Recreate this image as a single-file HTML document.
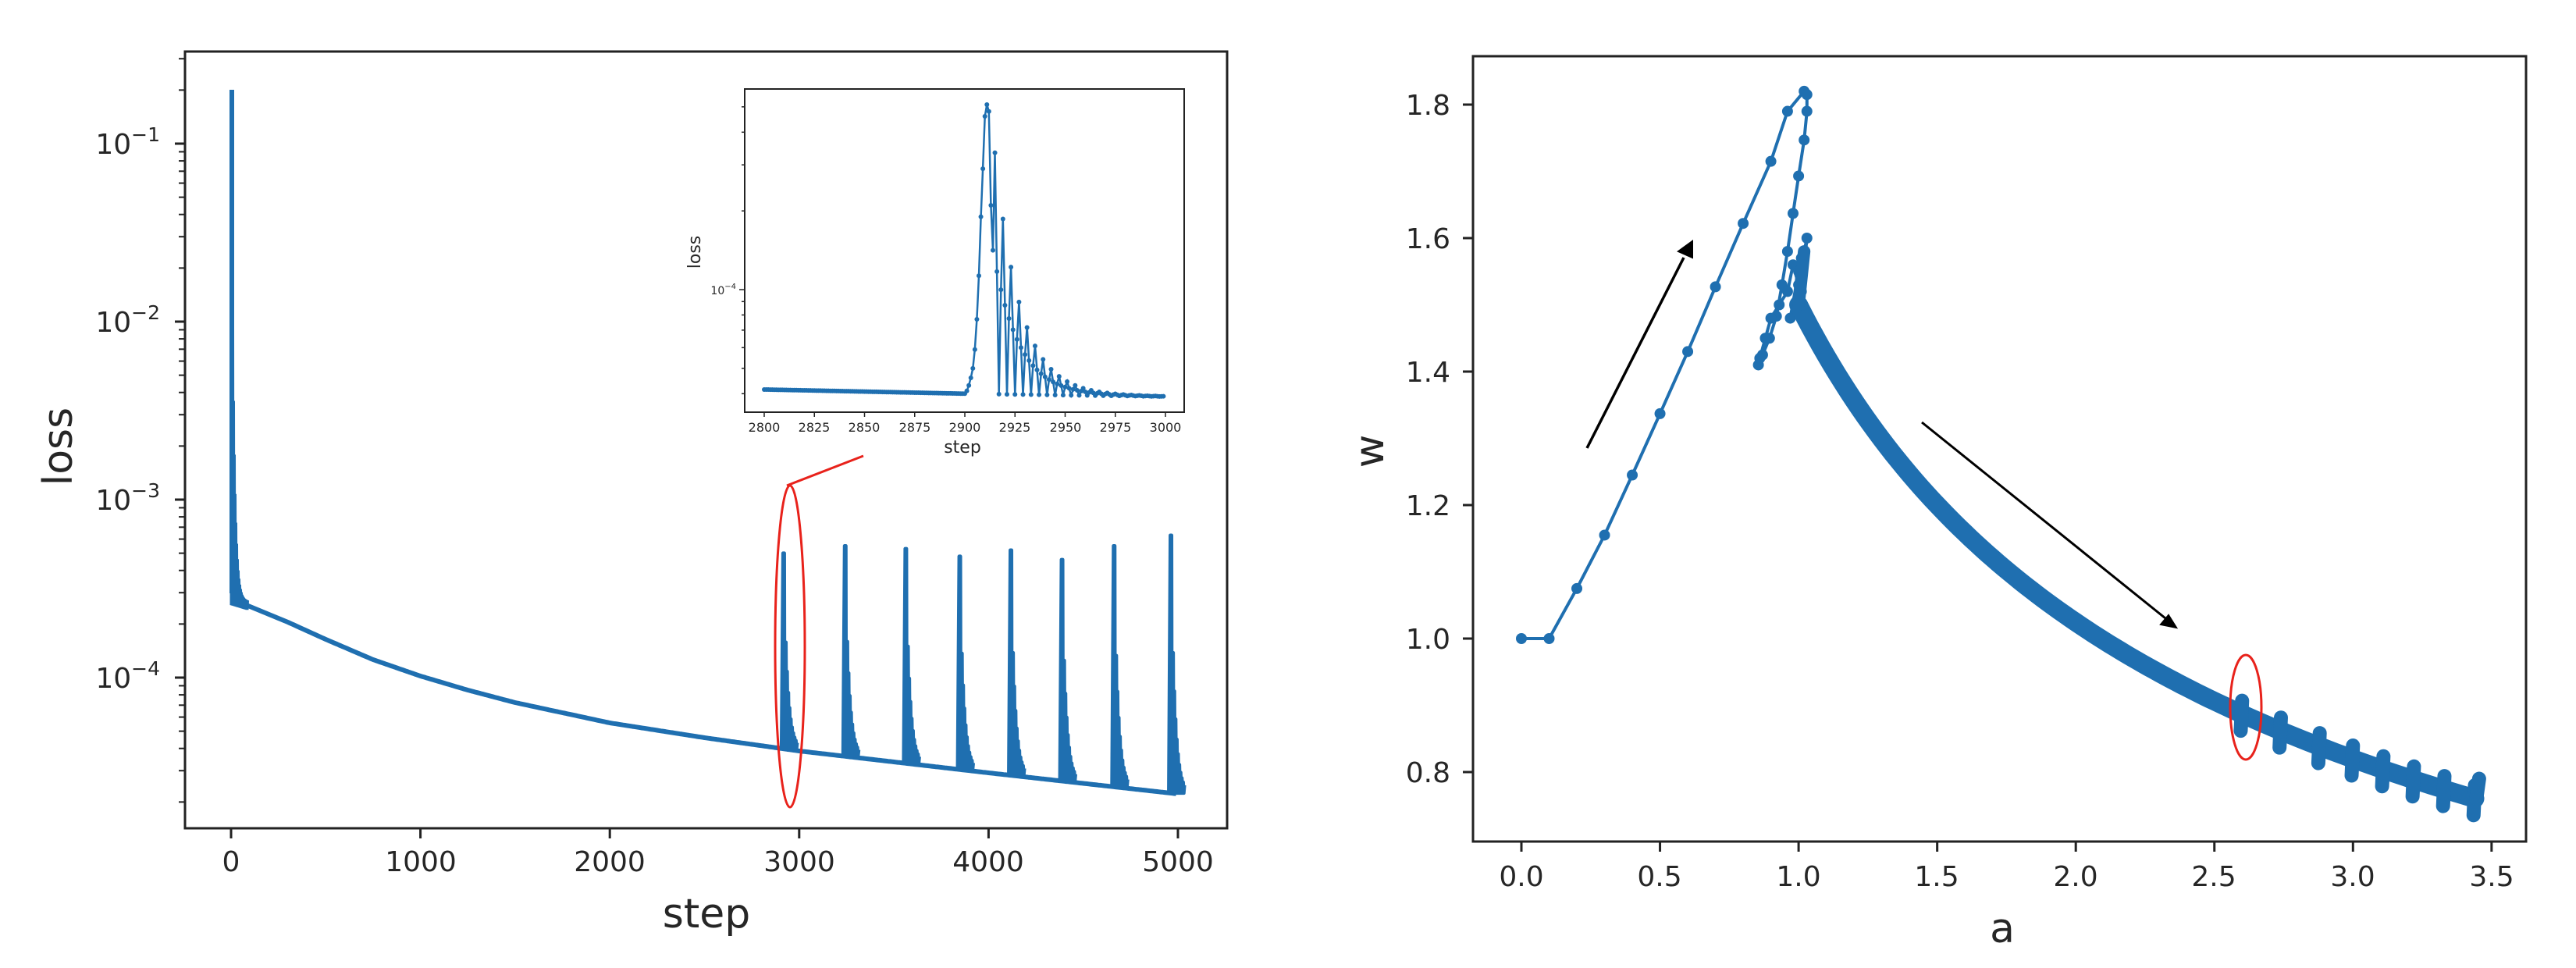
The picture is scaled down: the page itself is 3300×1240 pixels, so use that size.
<!DOCTYPE html>
<html><head><meta charset="utf-8"><style>
html,body{margin:0;padding:0;background:#fff;}
svg{display:block;}
text{font-family:"DejaVu Sans","Liberation Sans",sans-serif;fill:#262626;}
</style></head><body>
<svg id="s" width="3300" height="1240" viewBox="0 0 3300 1240" xmlns="http://www.w3.org/2000/svg">
<rect width="3300" height="1240" fill="#fff"/>
<g id="g"></g>
<rect x="237" y="66" width="1335" height="995" fill="none" stroke="#222" stroke-width="3"/>
<g font-size="36" text-anchor="middle">
<text x="296" y="1116">0</text><text x="539" y="1116">1000</text><text x="781" y="1116">2000</text>
<text x="1024" y="1116">3000</text><text x="1266" y="1116">4000</text><text x="1509" y="1116">5000</text>
</g>
<g font-size="36" text-anchor="end">
<text x="205" y="197">10<tspan dy="-16" font-size="25">−1</tspan></text>
<text x="205" y="425">10<tspan dy="-16" font-size="25">−2</tspan></text>
<text x="205" y="653">10<tspan dy="-16" font-size="25">−3</tspan></text>
<text x="205" y="881">10<tspan dy="-16" font-size="25">−4</tspan></text>
</g>
<text x="905" y="1188" font-size="52" text-anchor="middle">step</text>
<text transform="translate(92,572) rotate(-90)" font-size="52" text-anchor="middle">loss</text>
<rect x="954" y="114" width="563" height="414" fill="#fff" stroke="#222" stroke-width="2"/>
<g id="gi"></g>
<g font-size="16" text-anchor="middle">
<text x="979" y="553">2800</text><text x="1043" y="553">2825</text><text x="1107" y="553">2850</text>
<text x="1172" y="553">2875</text><text x="1236" y="553">2900</text><text x="1300" y="553">2925</text>
<text x="1365" y="553">2950</text><text x="1429" y="553">2975</text><text x="1493" y="553">3000</text>
</g>
<text x="943" y="377" font-size="14" text-anchor="end">10<tspan dy="-7" font-size="10">−4</tspan></text>
<text x="1233" y="580" font-size="22" text-anchor="middle">step</text>
<text transform="translate(897,323) rotate(-90)" font-size="22" text-anchor="middle">loss</text>
<ellipse cx="1012" cy="828" rx="19" ry="206" fill="none" stroke="#e8221b" stroke-width="3"/>
<line x1="1008" y1="622" x2="1106" y2="584" stroke="#e8221b" stroke-width="3"/>

<rect x="1887" y="72" width="1349" height="1006" fill="none" stroke="#222" stroke-width="3"/>
<g id="gr"></g>
<g font-size="36" text-anchor="middle">
<text x="1949" y="1135">0.0</text><text x="2126" y="1135">0.5</text><text x="2304" y="1135">1.0</text>
<text x="2481" y="1135">1.5</text><text x="2659" y="1135">2.0</text><text x="2836" y="1135">2.5</text>
<text x="3014" y="1135">3.0</text><text x="3192" y="1135">3.5</text>
</g>
<g font-size="36" text-anchor="end">
<text x="1858" y="147">1.8</text><text x="1858" y="318">1.6</text><text x="1858" y="489">1.4</text>
<text x="1858" y="660">1.2</text><text x="1858" y="831">1.0</text><text x="1858" y="1002">0.8</text>
</g>
<text x="2565" y="1207" font-size="52" text-anchor="middle">a</text>
<text transform="translate(1772,578) rotate(-90)" font-size="52" text-anchor="middle">w</text>
<line x1="2033" y1="574" x2="2157" y2="330" stroke="#000" stroke-width="3.5"/>
<polygon points="2168,309 2168,330 2150,322" fill="#000" stroke="#000" stroke-width="2"/>
<line x1="2462" y1="541" x2="2774" y2="792" stroke="#000" stroke-width="3"/>
<polygon points="2788,804 2768,800 2778,788" fill="#000" stroke="#000" stroke-width="2"/>
<ellipse cx="2877" cy="906" rx="20" ry="67" fill="none" stroke="#e8221b" stroke-width="3"/>
</svg>
<script>
const NS="http://www.w3.org/2000/svg";
const B="#1f6fb0";
function el(p,t,a){const e=document.createElementNS(NS,t);for(const k in a)e.setAttribute(k,a[k]);p.appendChild(e);return e;}
const g=document.getElementById('g'),gi=document.getElementById('gi'),gr=document.getElementById('gr');
const X=s=>296+s*0.24260;
const LY=v=>868-Math.log10(v/1e-4)*228;
for(let s=0;s<=5000;s+=1000)el(g,'line',{x1:X(s),y1:1061,x2:X(s),y2:1074,stroke:'#222','stroke-width':3});
for(let n=-5;n<=0;n++)for(let k=1;k<=9;k++){const y=LY(k*Math.pow(10,n));if(y<66||y>1061)continue;
 el(g,'line',{x1:237,y1:y,x2:k==1?224:229,y2:y,stroke:'#222','stroke-width':k==1?3:2});}
const bp=[[80,775],[300,797],[500,819],[750,845],[1000,866],[1250,884],[1500,900],[2000,926],[2500,945],[3000,962],[4000,990],[5000,1017]];
function by(s){for(let i=0;i<bp.length-1;i++){if(s<=bp[i+1][0]){const t=(s-bp[i][0])/(bp[i+1][0]-bp[i][0]);return bp[i][1]+t*(bp[i+1][1]-bp[i][1]);}}return 1017;}
let d="M"+X(80)+","+by(80);
for(let s=90;s<=4990;s+=10)d+=" L"+X(s).toFixed(1)+","+by(s).toFixed(1);
el(g,'path',{d:d,fill:'none',stroke:B,'stroke-width':6,'stroke-linejoin':'round'});
let d0="M296,115";
for(let x=296.5;x<=317;x+=0.5){const env=115+(770-115)*(1-Math.exp(-(x-296)/3.2));const hi=((x*2)%2==0);d0+=" L"+x+","+(hi?env:775+(x-296)*0.3);}
el(g,'path',{d:d0,fill:'none',stroke:B,'stroke-width':4});
el(g,'line',{x1:297,y1:115,x2:297,y2:760,stroke:B,'stroke-width':6});
const sp=[[2915,5e-4],[3240,5.5e-4],[3560,5.3e-4],[3845,4.8e-4],[4115,5.2e-4],[4385,4.6e-4],[4660,5.5e-4],[4960,6.3e-4]];
for(const [s,v] of sp){const x0=X(s),b=by(s),p=LY(v);let dd="M"+(x0-2)+","+b+" L"+x0+","+p+" L"+(x0+1.5)+","+p;
 for(let x=x0+2;x<=x0+18;x+=0.8){const env=b-(b-p)*0.75*Math.exp(-(x-x0-2)/5);const hi=Math.round((x-x0)/0.8)%2==0;dd+=" L"+x.toFixed(1)+","+(hi?env:b).toFixed(1);}
 el(g,'path',{d:dd,fill:'none',stroke:B,'stroke-width':4.5,'stroke-linejoin':'round'});}
const IX=s=>979+(s-2800)*2.57, IY=v=>371-Math.log10(v/1e-4)*335;
for(let s=2800;s<=3000;s+=25)el(gi,'line',{x1:IX(s),y1:528,x2:IX(s),y2:534,stroke:'#222','stroke-width':1.5});
for(const v of [3e-5,4e-5,5e-5,6e-5,7e-5,8e-5,9e-5,1e-4,2e-4,3e-4,4e-4,5e-4]){const y=IY(v);if(y<114||y>528)continue;
 el(gi,'line',{x1:954,y1:y,x2:v==1e-4?947:950,y2:y,stroke:'#222','stroke-width':1.5});}
const pts=[];
const rise={2901:4.1e-5,2902:4.3e-5,2903:4.6e-5,2904:5.0e-5,2905:5.9e-5,2906:7.7e-5,2907:1.13e-4,2908:1.9e-4,2909:2.9e-4,2910:4.6e-4,2911:5.1e-4,2912:4.8e-4};
for(let s=2800;s<3000;s++){let base=4.15e-5-(s-2800)*1.5e-8;if(s>2900)base=4.0e-5-(s-2900)*1e-8;let v=base;
 if(rise[s])v=rise[s];else if(s>2912){const A=1.0*Math.exp(-(s-2914)/12.5);const ph=((s-2913)%4+4)%4;const f=[0.0,0.55,1,0.55][ph];v=base*Math.pow(10,A*f*(ph==0?0:1));
  if(s==2913)v=2.1e-4;}
 pts.push([IX(s),IY(v)]);}
el(gi,'path',{d:"M"+pts.map(p=>p[0].toFixed(1)+","+p[1].toFixed(1)).join(" L"),fill:'none',stroke:B,'stroke-width':2.5});
for(const p of pts)el(gi,'circle',{cx:p[0],cy:p[1],r:3,fill:B});
const RX=a=>1949+a*355.1, RY=w=>134+(1.8-w)*855;
for(let a=0;a<=3.5;a+=0.5)el(gr,'line',{x1:RX(a),y1:1078,x2:RX(a),y2:1091,stroke:'#222','stroke-width':3});
for(let w=0.8;w<=1.81;w+=0.2)el(gr,'line',{x1:1887,y1:RY(w),x2:1874,y2:RY(w),stroke:'#222','stroke-width':3});
const up=[[0,1],[0.1,1],[0.2,1.075],[0.3,1.155],[0.4,1.245],[0.5,1.337],[0.6,1.43],[0.7,1.527],[0.8,1.622],[0.9,1.715],[0.96,1.79],[1.02,1.82],[1.03,1.815],[1.03,1.79],[1.02,1.747],[1.0,1.693],[0.98,1.637],[0.96,1.58],[0.94,1.53],[0.92,1.483],[0.895,1.45],[0.87,1.425],[0.855,1.41],[0.86,1.42],[0.88,1.45],[0.9,1.48],[0.93,1.5],[0.96,1.52],[0.98,1.56],[1.0,1.53],[0.97,1.48],[1.0,1.55],[1.02,1.58],[1.03,1.6],[1.01,1.52],[0.99,1.5],[1.01,1.57],[1.0,1.5]];
el(gr,'path',{d:"M"+up.map(p=>RX(p[0]).toFixed(1)+","+RY(p[1]).toFixed(1)).join(" L"),fill:'none',stroke:B,'stroke-width':4,'stroke-linejoin':'round'});
for(const p of up)el(gr,'circle',{cx:RX(p[0]),cy:RY(p[1]),r:7,fill:B});
let bd="";
for(let a=1.0;a<=3.451;a+=0.02){const w=1.5*Math.pow(a,-0.55);bd+=(bd?" L":"M")+RX(a).toFixed(1)+","+RY(w).toFixed(1);}
el(gr,'path',{d:bd,fill:'none',stroke:B,'stroke-width':24,'stroke-linecap':'round','stroke-linejoin':'round'});
el(gr,'path',{d:"M"+RX(1.0)+","+RY(1.5)+" L"+RX(1.02)+","+RY(1.58),stroke:B,'stroke-width':16,'stroke-linecap':'round'});
for(const a of [2.6,2.74,2.88,3.0,3.11,3.22,3.33,3.44]){const w=1.5*Math.pow(a,-0.55);
 el(gr,'line',{x1:RX(a),y1:RY(w+0.02),x2:RX(a-0.005),y2:RY(w-0.025),stroke:B,'stroke-width':18,'stroke-linecap':'round'});}
el(gr,'line',{x1:RX(3.455),y1:RY(0.79),x2:RX(3.445),y2:RY(0.76),stroke:B,'stroke-width':18,'stroke-linecap':'round'});
</script>
</body></html>
